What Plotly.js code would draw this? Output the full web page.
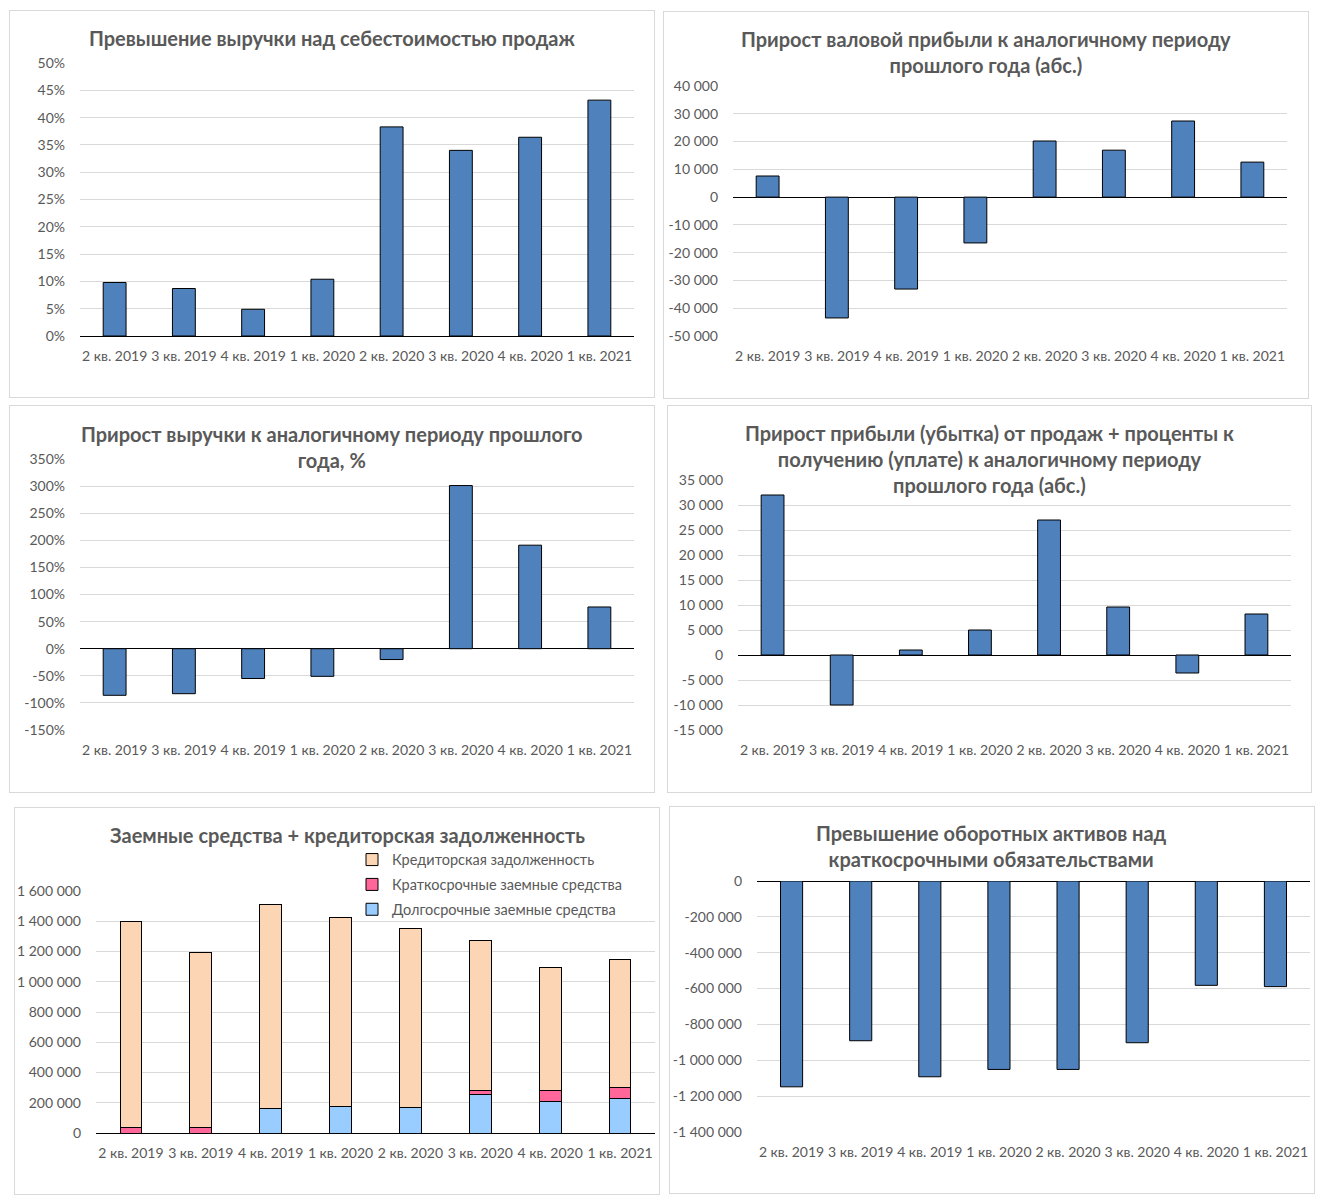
<!DOCTYPE html>
<html>
<head>
<meta charset="utf-8">
<script src="https://cdn.plot.ly/plotly-3.0.1.min.js"></script>
<style>
  html, body { margin: 0; padding: 0; background: #ffffff; }
  body { width: 1323px; height: 1203px; position: relative; overflow: hidden; }
  .frame { position: absolute; box-sizing: border-box; border: 1px solid #d9d9d9; background: #ffffff; }
  .plot { position: absolute; }
</style>
</head>
<body>
<script>
// ---------- data ----------
const quarters = ['2 кв. 2019', '3 кв. 2019', '4 кв. 2019', '1 кв. 2020', '2 кв. 2020', '3 кв. 2020', '4 кв. 2020', '1 кв. 2021'];

const revenueOverCost = [0.098, 0.087, 0.049, 0.104, 0.383, 0.340, 0.364, 0.432];
const grossProfitGrowth = [7600, -43500, -33100, -16500, 20200, 16900, 27400, 12600];
const revenueGrowthPct = [-0.86, -0.83, -0.55, -0.51, -0.20, 3.01, 1.91, 0.77];
const salesProfitGrowth = [32000, -10000, 1000, 5000, 27000, 9600, -3600, 8200];
const longTermLoans = [0, 0, 161000, 174000, 168000, 254000, 207000, 227000];
const shortTermLoans = [37000, 37000, 0, 0, 0, 29000, 73000, 73000];
const payables = [1362500, 1159000, 1353000, 1252000, 1185000, 991000, 815000, 848000];
const workingCapitalExcess = [-1148000, -891000, -1092000, -1051000, -1051000, -902000, -582000, -589000];

const ticks1 = [0, 0.05, 0.10, 0.15, 0.20, 0.25, 0.30, 0.35, 0.40, 0.45, 0.50];
const ticks2 = [-50000, -40000, -30000, -20000, -10000, 0, 10000, 20000, 30000, 40000];
const ticks3 = [-1.5, -1.0, -0.5, 0, 0.5, 1.0, 1.5, 2.0, 2.5, 3.0, 3.5];
const ticks4 = [-15000, -10000, -5000, 0, 5000, 10000, 15000, 20000, 25000, 30000, 35000];
const ticks5 = [0, 200000, 400000, 600000, 800000, 1000000, 1200000, 1400000, 1600000];
const ticks6 = [-1400000, -1200000, -1000000, -800000, -600000, -400000, -200000, 0];

const titles = [
  'Превышение выручки над себестоимостью продаж',
  'Прирост валовой прибыли к аналогичному периоду<br>прошлого года (абс.)',
  'Прирост выручки к аналогичному периоду прошлого<br>года, %',
  'Прирост прибыли (убытка) от продаж + проценты к<br>получению (уплате) к аналогичному периоду<br>прошлого года (абс.)',
  'Заемные средства + кредиторская задолженность',
  'Превышение оборотных активов над<br>краткосрочными обязательствами'
];
const seriesNames = ['Долгосрочные заемные средства', 'Краткосрочные заемные средства', 'Кредиторская задолженность'];

// ---------- helpers ----------
const FONT = 'Lato, "Open Sans", sans-serif';
const TXT = '#595959';
const BLUE = '#4f81bd';
const TITLE_SIZE = 20;

function fmtNum(v) {
  const s = Math.abs(Math.round(v)).toString().replace(/\B(?=(\d{3})+(?!\d))/g, ' ');
  return (v < 0 ? '-' : '') + s;
}
function fmtPct(v) {
  return Math.round(v * 100) + '%';
}

function panel(box, plot, title, titleCx, traces, yTicks, yFmt, extra) {
  const f = document.createElement('div');
  f.className = 'frame';
  f.style.left = box.x + 'px'; f.style.top = box.y + 'px';
  f.style.width = box.w + 'px'; f.style.height = box.h + 'px';
  document.body.appendChild(f);
  const d = document.createElement('div');
  d.className = 'plot';
  d.style.left = box.x + 'px'; d.style.top = box.y + 'px';
  document.body.appendChild(d);

  const pw = plot.x1 - plot.x0, ph = plot.y1 - plot.y0;
  const layout = Object.assign({
    width: box.w, height: box.h,
    margin: { l: plot.x0 - box.x, r: box.x + box.w - plot.x1, t: plot.y0 - box.y, b: box.y + box.h - plot.y1, pad: 0, autoexpand: false },
    paper_bgcolor: 'rgba(0,0,0,0)',
    plot_bgcolor: 'rgba(0,0,0,0)',
    font: { family: FONT, size: 14, color: TXT },
    annotations: [{
      text: title, showarrow: false,
      xref: 'paper', yref: 'paper',
      x: (titleCx - plot.x0) / pw, xanchor: 'center',
      y: (plot.y1 - (plot.titleC - 14)) / ph, yanchor: 'top',
      align: 'center',
      font: { family: FONT, size: TITLE_SIZE, color: TXT, weight: 'bold' }
    }],
    showlegend: false,
    bargap: 0.67,
    xaxis: {
      type: 'category', categoryorder: 'array', categoryarray: quarters,
      showgrid: false, zeroline: false, showline: false, ticks: '',
      tickangle: 0,
      tickfont: { family: FONT, size: 14, color: TXT }, ticklabelstandoff: 10,
      fixedrange: true
    },
    yaxis: {
      range: [yTicks[0], yTicks[yTicks.length - 1]],
      tickmode: 'array', tickvals: yTicks, ticktext: yTicks.map(yFmt),
      showgrid: true, gridcolor: '#d9d9d9', gridwidth: 1,
      zeroline: true, zerolinecolor: '#000000', zerolinewidth: 1,
      showline: false, ticks: '',
      tickfont: { family: FONT, size: 14, color: TXT }, ticklabelstandoff: 14,
      fixedrange: true
    },
    hovermode: false
  }, extra || {});
  Plotly.newPlot(d, traces, layout, { displayModeBar: false, staticPlot: true });
}

function barTrace(y) {
  return { type: 'bar', x: quarters, y: y, marker: { color: BLUE, line: { color: '#000000', width: 1 } }, hoverinfo: 'skip' };
}

// ---------- panels ----------
panel({ x: 9, y: 10, w: 646, h: 388 }, { x0: 80, x1: 634, y0: 63, y1: 336, titleC: 38 },
  titles[0], 332, [barTrace(revenueOverCost)], ticks1, fmtPct);

panel({ x: 663, y: 11, w: 646, h: 388 }, { x0: 733, x1: 1287, y0: 86, y1: 336, titleC: 39 },
  titles[1], 986, [barTrace(grossProfitGrowth)], ticks2, fmtNum);

panel({ x: 9, y: 405, w: 646, h: 388 }, { x0: 80, x1: 634, y0: 458.5, y1: 730.3, titleC: 433 },
  titles[2], 332, [barTrace(revenueGrowthPct)], ticks3, fmtPct);

panel({ x: 667, y: 405, w: 645, h: 388 }, { x0: 738, x1: 1291, y0: 480.3, y1: 730, titleC: 433 },
  titles[3], 989, [barTrace(salesProfitGrowth)], ticks4, fmtNum);

const stackColors = ['#99ccff', '#ff6699', '#fcd5b4'];
const stackData = [longTermLoans, shortTermLoans, payables];
const stackRanks = [3, 2, 1];
const stackTraces = stackData.map((arr, i) => ({
  type: 'bar', x: quarters, y: arr, name: seriesNames[i], legendgroup: 'g' + i, legendrank: stackRanks[i],
  marker: { color: stackColors[i], line: { color: '#000000', width: 1 } }, hoverinfo: 'skip'
}));
panel({ x: 14, y: 807, w: 646, h: 388 }, { x0: 96, x1: 655, y0: 891.3, y1: 1133, titleC: 835 },
  titles[4], 347, stackTraces, ticks5, fmtNum,
  {
    barmode: 'stack', bargap: 0.69, showlegend: true,
    legend: {
      x: (352 - 96) / 559, xanchor: 'left', y: (1133 - 844) / 241.7, yanchor: 'top',
      orientation: 'v', traceorder: 'grouped', tracegroupgap: 3,
      bgcolor: 'rgba(0,0,0,0)', font: { family: FONT, size: 14.5, color: TXT }
    }
  });

panel({ x: 669, y: 806, w: 646, h: 388 }, { x0: 756.5, x1: 1310, y0: 881.3, y1: 1131.7, titleC: 833 },
  titles[5], 991, [barTrace(workingCapitalExcess)], ticks6, fmtNum, { bargap: 0.68 });
</script>
</body>
</html>
